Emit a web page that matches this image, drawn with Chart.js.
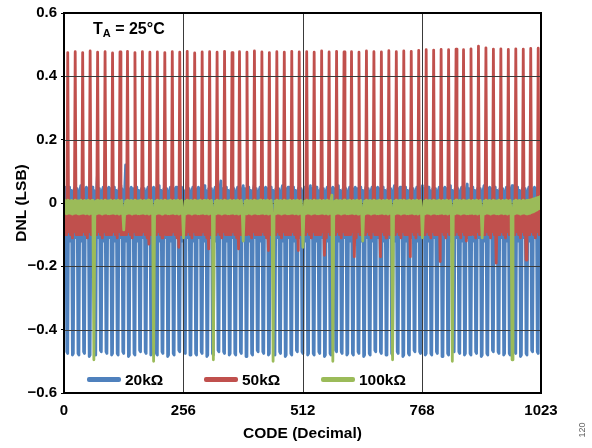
<!DOCTYPE html>
<html>
<head>
<meta charset="utf-8">
<script src="https://cdn.jsdelivr.net/npm/chart.js@4.4.1/dist/chart.umd.min.js"></script>
<style>
  html, body { margin: 0; padding: 0; background: #fff; }
  #wrap { position: relative; width: 592px; height: 448px; font-family: "Liberation Sans", Arial, sans-serif; color: #000; }
  #wrap canvas { position: absolute; left: 0; top: 0; }
  .note { position: absolute; left: 93px; top: 21px; font-size: 16px; font-weight: bold; line-height: 16px; white-space: nowrap; }
  .note .sub { font-size: 11px; position: relative; top: 3px; }
  .legend { position: absolute; left: 87px; top: 370px; display: flex; }
  .legend-item { display: flex; align-items: center; width: 117px; height: 19px; }
  .legend-line { width: 34px; height: 4.5px; border-radius: 2px; }
  .legend-name { margin-left: 4px; font-size: 15.5px; font-weight: bold; white-space: nowrap; }
  .fig-no { position: absolute; left: 572px; top: 425px; width: 20px; text-align: center; font-size: 9px; color: #666; transform: rotate(-90deg); }
</style>
</head>
<body>
<div id="wrap">
  <canvas id="dnl" width="592" height="448"></canvas>
  <div class="note">T<span class="sub">A</span> = 25°C</div>
  <div class="legend" id="legend"></div>
  <div class="fig-no">120</div>
</div>
<script>
// ─────────────────────────────────────────────
//  DATA  (DNL in LSB, one sample every ~2 codes, 0..1023)
// ─────────────────────────────────────────────

const SERIES_NAMES = ['20kΩ', '50kΩ', '100kΩ'];
const SERIES_COLORS = ['#4F81BD', '#C0504D', '#9BBB59'];
const X_TICKS = [0, 256, 512, 768, 1023];
const Y_TICKS = [-0.6, -0.4, -0.2, 0, 0.2, 0.4, 0.6];

const DNL_20K = [
  0.05,-0.11,0.045,-0.47,-0.475,0.04, 0.05,-0.12,0.04,-0.48,-0.475,0.045,
  0.05,-0.11,0.045,-0.475,-0.48,0.04, 0.055,-0.12,0.04,-0.47,-0.475,0.045,
  0.05,-0.11,0.045,-0.485,-0.48,0.04, 0.05,-0.12,0.04,-0.475,-0.48,0.045,
  0.10,-0.11,0.045,-0.465,-0.47,0.04, 0.05,-0.12,0.04,-0.47,-0.475,0.045,
  0.05,-0.11,0.045,-0.48,-0.475,0.04, 0.05,-0.12,0.04,-0.475,-0.48,0.045,
  0.055,-0.11,0.045,-0.47,-0.475,0.04, 0.12,-0.12,0.04,-0.485,-0.48,0.045,
  0.05,-0.11,0.045,-0.475,-0.48,0.04, 0.05,-0.12,0.04,-0.465,-0.47,0.045,
  0.05,-0.11,0.045,-0.47,-0.475,0.04, 0.05,-0.12,0.04,-0.48,-0.475,0.045,
  0.05,-0.11,0.045,-0.475,-0.48,0.04, 0.055,-0.12,0.04,-0.47,-0.475,0.045,
  0.05,-0.11,0.045,-0.485,-0.48,0.04, 0.05,-0.12,0.04,-0.475,-0.48,0.045,
  0.05,-0.11,0.045,-0.465,-0.47,0.04, 0.05,-0.12,0.04,-0.47,-0.475,0.045,
  0.075,-0.11,0.045,-0.48,-0.475,0.04, 0.05,-0.12,0.04,-0.475,-0.48,0.045,
  0.05,-0.11,0.045,-0.47,-0.475,0.04, 0.055,-0.12,0.04,-0.485,-0.48,0.045,
  0.05,-0.11,0.045,-0.475,-0.48,0.04, 0.05,-0.12,0.04,-0.465,-0.47,0.045,
  0.07,-0.11,0.045,-0.47,-0.475,0.04, 0.05,-0.12,0.04,-0.48,-0.475,0.045,
  0.05,-0.11,0.045,-0.475,-0.48,0.04, 0.05,-0.12,0.04,-0.47,-0.475,0.045,
  0.055,-0.11,0.045,-0.485,-0.48,0.04, 0.05,-0.12,0.04,-0.475,-0.48,0.045,
  0.06,-0.11,0.045,-0.465,-0.47,0.04, 0.05,-0.12,0.04,-0.47,-0.475,0.045,
  0.05,-0.11,0.045,-0.48,-0.475,0.04, 0.05,-0.12,0.04,-0.475,-0.48,0.045,
  0.05,-0.11,0.045,-0.47,-0.475,0.04, 0.055,-0.12,0.04,-0.485,-0.48,0.045,
  0.05,-0.11,0.045,-0.475,-0.48,0.04, 0.05,-0.12,0.04,-0.465,-0.47,0.045,
  0.05,-0.11,0.045,-0.47,-0.475,0.04, 0.05,-0.12,0.04,-0.48,-0.475,0.045,
  0.055,-0.11,0.045,-0.475,-0.48,0.04, 0.05,-0.12,0.04,-0.47,-0.475,0.045,
  0.05,-0.11,0.045,-0.485,-0.48,0.04, 0.05,-0.12,0.04,-0.475,-0.48,0.045,
  0.05,-0.11,0.045,-0.465,-0.47,0.04, 0.055,-0.12,0.04,-0.47,-0.475,0.045,
  0.05,-0.11,0.045,-0.48,-0.475,0.04, 0.05,-0.12,0.04,-0.475,-0.48,0.045,
  0.05,-0.11,0.045,-0.47,-0.475,0.04, 0.05,-0.12,0.04,-0.485,-0.48,0.045,
  0.055,-0.11,0.045,-0.475,-0.48,0.04, 0.05,-0.12,0.04,-0.465,-0.47,0.045,
  0.05,-0.11,0.045,-0.47,-0.475,0.04, 0.05,-0.12,0.04,-0.48,-0.475,0.045,
  0.05,-0.11,0.045,-0.475,-0.48,0.04, 0.055,-0.12,0.04,-0.47,-0.475,0.045,
  0.05,-0.11,0.045,-0.485,-0.48,0.04, 0.05,-0.12,0.04,-0.475,-0.48,0.045,
  0.05,-0.11,0.045,-0.465,-0.47,0.04, 0.05,-0.12,0.04,-0.47,-0.475,0.045,
  0.055,-0.11,0.045,-0.48,-0.475,0.04, 0.05,-0.12,0.04,-0.475,-0.48,0.045,
  0.05,-0.11,0.045,-0.47,-0.475,0.04, 0.05,-0.12,0.04,-0.485,-0.48,0.045,
  0.05,-0.11,0.045,-0.475,-0.48,0.04, 0.055,-0.12,0.04,-0.465,-0.47,0.045,
  0.05,-0.11,0.045,-0.47,-0.475,0.04, 0.05,-0.12,0.04,-0.48,-0.475,0.045,
  0.06,-0.11,0.045,-0.475,-0.48,0.04, 0.05,-0.12,0.04,-0.47,-0.475,0.045,
  0.05,-0.11,0.045,-0.485,-0.48,0.04, 0.055,-0.12,0.04,-0.475,-0.48,0.045,
  0.05,-0.11,0.045,-0.465,-0.47,0.04, 0.05,-0.12,0.04,-0.47,-0.475,0.045,
  0.05,-0.11,0.045,-0.48,-0.475,0.04, 0.05,-0.12,0.04,-0.475,-0.48,0.045,
  0.055,-0.11,0.045,-0.47,-0.475,0.04, 0.05,-0.12,0.04,-0.485,-0.48,0.045,
  0.05,-0.11,0.045,-0.475,-0.48,0.04, 0.05,-0.12,0.04,-0.465,-0.47,0.045,
  0.05,-0.11,0.045,-0.47,-0.475,0.04, 0.05,-0.11
];

const DNL_50K = [
  -0.03,-0.10,-0.02,-0.10,0.475,-0.09,-0.03,-0.10, -0.02,-0.11,-0.03,-0.09,0.478,-0.10,-0.02,-0.10,
  -0.03,-0.10,-0.02,-0.10,0.475,-0.09,-0.03,-0.10, -0.02,-0.11,-0.03,-0.09,0.480,-0.10,-0.02,-0.10,
  -0.03,-0.10,-0.02,-0.10,0.476,-0.09,-0.03,-0.10, -0.02,-0.11,-0.03,-0.09,0.478,-0.10,-0.02,-0.10,
  -0.03,-0.10,-0.02,-0.10,0.474,-0.09,-0.03,-0.10, -0.02,-0.11,-0.03,-0.09,0.477,-0.10,-0.02,-0.10,
  -0.03,-0.10,-0.02,-0.10,0.479,-0.09,-0.03,-0.10, -0.02,-0.11,-0.03,-0.09,0.475,-0.10,-0.02,-0.10,
  -0.03,-0.10,-0.02,-0.10,0.478,-0.09,-0.03,-0.10, -0.02,-0.11,-0.03,-0.13,0.476,-0.10,-0.02,-0.10,
  -0.03,-0.10,-0.02,-0.10,0.477,-0.09,-0.03,-0.10, -0.02,-0.11,-0.03,-0.09,0.475,-0.10,-0.02,-0.10,
  -0.03,-0.10,-0.02,-0.10,0.478,-0.09,-0.03,-0.10, -0.02,-0.11,-0.03,-0.14,0.476,-0.10,-0.02,-0.10,
  -0.03,-0.10,-0.02,-0.10,0.479,-0.09,-0.03,-0.10, -0.02,-0.11,-0.03,-0.09,0.474,-0.10,-0.02,-0.10,
  -0.03,-0.10,-0.02,-0.10,0.477,-0.09,-0.03,-0.10, -0.02,-0.11,-0.03,-0.145,0.478,-0.10,-0.02,-0.10,
  -0.03,-0.10,-0.02,-0.10,0.476,-0.09,-0.03,-0.10, -0.02,-0.11,-0.03,-0.09,0.479,-0.10,-0.02,-0.10,
  -0.03,-0.10,-0.02,-0.10,0.475,-0.09,-0.03,-0.10, -0.02,-0.11,-0.03,-0.145,0.478,-0.10,-0.02,-0.10,
  -0.03,-0.10,-0.02,-0.10,0.476,-0.09,-0.03,-0.10, -0.02,-0.11,-0.03,-0.09,0.480,-0.10,-0.02,-0.10,
  -0.03,-0.10,-0.02,-0.10,0.477,-0.09,-0.03,-0.10, -0.02,-0.11,-0.03,-0.15,0.475,-0.10,-0.02,-0.10,
  -0.03,-0.10,-0.02,-0.10,0.478,-0.09,-0.03,-0.10, -0.02,-0.11,-0.03,-0.09,0.476,-0.10,-0.02,-0.10,
  -0.03,-0.10,-0.02,-0.10,0.479,-0.09,-0.03,-0.10, -0.02,-0.11,-0.03,-0.15,0.477,-0.10,-0.02,-0.10,
  -0.03,-0.10,-0.02,-0.10,0.478,-0.09,-0.03,-0.10, -0.02,-0.11,-0.03,-0.09,0.476,-0.10,-0.02,-0.10,
  -0.03,-0.10,-0.02,-0.10,0.480,-0.09,-0.03,-0.165, -0.02,-0.11,-0.03,-0.09,0.477,-0.10,-0.02,-0.10,
  -0.03,-0.10,-0.02,-0.10,0.479,-0.09,-0.03,-0.10, -0.02,-0.11,-0.03,-0.09,0.477,-0.10,-0.02,-0.10,
  -0.03,-0.10,-0.02,-0.10,0.478,-0.09,-0.03,-0.17, -0.02,-0.11,-0.03,-0.09,0.476,-0.10,-0.02,-0.10,
  -0.03,-0.10,-0.02,-0.10,0.480,-0.09,-0.03,-0.10, -0.02,-0.11,-0.03,-0.09,0.478,-0.10,-0.02,-0.10,
  -0.03,-0.10,-0.02,-0.17,0.477,-0.09,-0.03,-0.10, -0.02,-0.11,-0.03,-0.09,0.481,-0.10,-0.02,-0.10,
  -0.03,-0.10,-0.02,-0.10,0.478,-0.09,-0.03,-0.10, -0.02,-0.11,-0.03,-0.09,0.480,-0.10,-0.02,-0.10,
  -0.03,-0.10,-0.02,-0.17,0.479,-0.09,-0.03,-0.10, -0.02,-0.11,-0.03,-0.09,0.482,-0.10,-0.02,-0.10,
  -0.03,-0.10,-0.02,-0.10,0.484,-0.09,-0.03,-0.10, -0.02,-0.11,-0.03,-0.09,0.483,-0.10,-0.02,-0.10,
  -0.03,-0.10,-0.02,-0.185,0.485,-0.09,-0.03,-0.10, -0.02,-0.11,-0.03,-0.09,0.484,-0.10,-0.02,-0.10,
  -0.03,-0.10,-0.02,-0.10,0.486,-0.09,-0.03,-0.10, -0.02,-0.11,-0.03,-0.09,0.484,-0.10,-0.02,-0.12,
  -0.03,-0.10,-0.02,-0.10,0.487,-0.09,-0.03,-0.10, -0.02,-0.11,-0.03,-0.09,0.495,-0.10,-0.02,-0.10,
  -0.03,-0.10,-0.02,-0.10,0.490,-0.09,-0.03,-0.10, -0.02,-0.11,-0.03,-0.09,0.486,-0.10,-0.02,-0.19,
  -0.03,-0.10,-0.02,-0.10,0.487,-0.09,-0.03,-0.10, -0.02,-0.11,-0.03,-0.09,0.485,-0.10,-0.02,-0.10,
  -0.03,-0.10,-0.02,-0.10,0.487,-0.09,-0.03,-0.10, -0.02,-0.11,-0.03,-0.09,0.486,-0.10,-0.02,-0.18,
  -0.03,-0.10,-0.02,-0.10,0.488,-0.09,-0.03,-0.10, -0.02,-0.11,-0.03,-0.09,0.489,-0.10,-0.02,-0.10
];

const DNL_100K = [
  0.008,-0.033,0.006,-0.034,0.009,-0.032,0.007,-0.033,0.008,-0.035,0.006,-0.033,0.009,-0.032,0.007,-0.034,
  0.007,-0.034,0.009,-0.033,0.006,-0.032,0.008,-0.034,0.007,-0.033,0.009,-0.035,0.006,-0.033,0.008,-0.032,
  -0.495,-0.033,0.006,-0.034,0.009,-0.032,0.007,-0.033,0.008,-0.035,0.006,-0.033,0.009,-0.032,0.007,-0.034,
  0.007,-0.034,0.009,-0.033,0.006,-0.032,0.008,-0.034,0.007,-0.033,0.009,-0.035,0.006,-0.033,0.008,-0.032,
  -0.085,-0.033,0.006,-0.034,0.009,-0.032,0.007,-0.033,0.008,-0.035,0.006,-0.033,0.009,-0.032,0.007,-0.034,
  0.007,-0.034,0.009,-0.033,0.006,-0.032,0.008,-0.034,0.007,-0.033,0.009,-0.035,0.006,-0.033,0.008,-0.032,
  -0.500,-0.033,0.006,-0.034,0.009,-0.032,0.007,-0.033,0.008,-0.035,0.006,-0.033,0.009,-0.032,0.007,-0.034,
  0.007,-0.034,0.009,-0.033,0.006,-0.032,0.008,-0.034,0.007,-0.033,0.009,-0.035,0.006,-0.033,0.008,-0.032,
  -0.110,-0.033,0.006,-0.034,0.009,-0.032,0.007,-0.033,0.008,-0.035,0.006,-0.033,0.009,-0.032,0.007,-0.034,
  0.007,-0.034,0.009,-0.033,0.006,-0.032,0.008,-0.034,0.007,-0.033,0.009,-0.035,0.006,-0.033,0.008,-0.032,
  -0.495,-0.033,0.006,-0.034,0.009,-0.032,0.007,-0.033,0.008,-0.035,0.006,-0.033,0.009,-0.032,0.007,-0.034,
  0.007,-0.034,0.009,-0.033,0.006,-0.032,0.008,-0.034,0.007,-0.033,0.009,-0.035,0.006,-0.033,0.008,-0.032,
  -0.120,-0.033,0.006,-0.034,0.009,-0.032,0.007,-0.033,0.008,-0.035,0.006,-0.033,0.009,-0.032,0.007,-0.034,
  0.007,-0.034,0.009,-0.033,0.006,-0.032,0.008,-0.034,0.007,-0.033,0.009,-0.035,0.006,-0.033,0.008,-0.032,
  -0.500,-0.033,0.006,-0.034,0.009,-0.032,0.007,-0.033,0.008,-0.035,0.006,-0.033,0.009,-0.032,0.007,-0.034,
  0.007,-0.034,0.009,-0.033,0.006,-0.032,0.008,-0.034,0.007,-0.033,0.009,-0.035,0.006,-0.033,0.008,-0.032,
  -0.140,-0.033,0.006,-0.034,0.009,-0.032,0.007,-0.033,0.008,-0.035,0.006,-0.033,0.009,-0.032,0.007,-0.034,
  0.007,-0.034,0.009,-0.033,0.006,-0.032,0.008,-0.034,0.007,-0.033,0.009,-0.035,0.006,-0.033,0.008,0.025,
  -0.500,-0.033,0.006,-0.034,0.009,-0.032,0.007,-0.033,0.008,-0.035,0.006,-0.033,0.009,-0.032,0.007,-0.034,
  0.007,-0.034,0.009,-0.033,0.006,-0.032,0.008,-0.034,0.007,-0.033,0.009,-0.035,0.006,-0.033,0.008,-0.032,
  -0.120,-0.033,0.006,-0.034,0.009,-0.032,0.007,-0.033,0.008,-0.035,0.006,-0.033,0.009,-0.032,0.007,-0.034,
  0.007,-0.034,0.009,-0.033,0.006,-0.032,0.008,-0.034,0.007,-0.033,0.009,-0.035,0.006,-0.033,0.008,-0.032,
  -0.495,-0.033,0.006,-0.034,0.009,-0.032,0.007,-0.033,0.008,-0.035,0.006,-0.033,0.009,-0.032,0.007,-0.034,
  0.007,-0.034,0.009,-0.033,0.006,-0.032,0.008,-0.034,0.007,-0.033,0.009,-0.035,0.006,-0.033,0.008,-0.032,
  -0.110,-0.033,0.006,-0.034,0.009,-0.032,0.007,-0.033,0.008,-0.035,0.006,-0.033,0.009,-0.032,0.007,-0.034,
  0.007,-0.034,0.009,-0.033,0.006,-0.032,0.008,-0.034,0.007,-0.033,0.009,-0.035,0.006,-0.033,0.008,-0.032,
  -0.500,-0.033,0.006,-0.034,0.009,-0.032,0.007,-0.033,0.008,-0.035,0.006,-0.033,0.009,-0.032,0.007,-0.034,
  0.007,-0.034,0.009,-0.033,0.006,-0.032,0.008,-0.034,0.007,-0.033,0.009,-0.035,0.006,-0.033,0.008,-0.032,
  -0.110,-0.033,0.006,-0.034,0.009,-0.032,0.007,-0.033,0.008,-0.035,0.006,-0.033,0.009,-0.032,0.007,-0.034,
  0.007,-0.034,0.009,-0.033,0.006,-0.032,0.008,-0.034,0.007,-0.033,0.009,-0.035,0.006,-0.033,0.008,-0.032,
  -0.495,-0.033,0.006,-0.034,0.009,-0.032,0.007,-0.033,0.008,-0.035,0.006,-0.033,0.009,-0.032,0.007,-0.034,
  0.008,-0.034,0.009,-0.033,0.010,-0.030,0.012,-0.028,0.014,-0.025,0.016,-0.022,0.018,-0.018,0.020,-0.015
];

const SERIES_VALUES = [DNL_20K, DNL_50K, DNL_100K];

// ─────────────────────────────────────────────
//  CHART
// ─────────────────────────────────────────────

const FONT = '"Liberation Sans", Arial, sans-serif';
const GRID_COLOR = '#3a3a3a';
const LAST_CODE = 1023;

// samples are evenly spaced over the code range
function toPoints(values) {
  const step = LAST_CODE / (values.length - 1);
  return values.map((v, i) => ({ x: i * step, y: v }));
}

function formatLsb(v) {
  if (Math.abs(v) < 1e-9) return '0';
  return (v < 0 ? '\u2212' : '') + Math.abs(v).toFixed(1);
}

// grid sits over the 20k / 50k traces but under the 100k trace
const gridOver = {
  id: 'gridOver',
  beforeDatasetDraw(chart, args) {
    if (args.index !== 2) return;
    const { ctx, chartArea: a, scales: { x, y } } = chart;
    ctx.save();
    ctx.strokeStyle = GRID_COLOR;
    ctx.lineWidth = 1;
    ctx.beginPath();
    X_TICKS.slice(1, -1).forEach(v => {
      const px = Math.round(x.getPixelForValue(v)) + 0.5;
      ctx.moveTo(px, a.top);
      ctx.lineTo(px, a.bottom);
    });
    Y_TICKS.slice(1, -1).forEach(v => {
      const py = Math.round(y.getPixelForValue(v)) + 0.5;
      ctx.moveTo(a.left, py);
      ctx.lineTo(a.right, py);
    });
    ctx.stroke();
    ctx.restore();
  }
};

const frame = {
  id: 'frame',
  afterDatasetsDraw(chart) {
    const { ctx, chartArea: a } = chart;
    ctx.save();
    ctx.strokeStyle = '#000';
    ctx.lineWidth = 2;
    ctx.strokeRect(a.left, a.top, a.right - a.left, a.bottom - a.top);
    ctx.restore();
  }
};

const datasets = SERIES_VALUES.map((vals, i) => ({
  label: SERIES_NAMES[i],
  data: toPoints(vals),
  borderColor: SERIES_COLORS[i],
  backgroundColor: SERIES_COLORS[i],
  borderWidth: 2.8,
  pointRadius: 0,
  tension: 0,
  borderJoinStyle: 'round',
  order: 3 - i   // 100k on top, 20k at the bottom
}));

new Chart(document.getElementById('dnl').getContext('2d'), {
  type: 'line',
  data: { datasets },
  options: {
    responsive: false,
    animation: false,
    normalized: true,
    layout: { padding: { top: 13, right: 51, left: 0, bottom: 0 } },
    plugins: { legend: { display: false }, tooltip: { enabled: false } },
    scales: {
      x: {
        type: 'linear',
        min: 0,
        max: LAST_CODE,
        afterBuildTicks: s => { s.ticks = X_TICKS.map(v => ({ value: v })); },
        afterFit: s => { s.height = 55; },
        grid: { drawOnChartArea: false, drawTicks: false },
        border: { display: false },
        ticks: { padding: 9, maxRotation: 0, color: '#000', callback: v => String(v),
                 font: { family: FONT, size: 15, weight: 'bold' } },
        title: { display: true, text: 'CODE (Decimal)', color: '#000', padding: { top: 0, bottom: 5 },
                 font: { family: FONT, size: 15.5, weight: 'bold' } }
      },
      y: {
        type: 'linear',
        min: -0.6,
        max: 0.6,
        afterBuildTicks: s => { s.ticks = Y_TICKS.map(v => ({ value: v })); },
        afterFit: s => { s.width = 64; },
        grid: { drawOnChartArea: false, drawTicks: true, tickLength: 3, color: '#000' },
        border: { display: false },
        ticks: { padding: 4, color: '#000', callback: formatLsb, font: { family: FONT, size: 15, weight: 'bold' } },
        title: { display: true, text: 'DNL (LSB)', color: '#000', padding: { top: 12, bottom: 0 },
                 font: { family: FONT, size: 15.5, weight: 'bold' } }
      }
    }
  },
  plugins: [gridOver, frame]
});

// Legend
document.getElementById('legend').innerHTML = SERIES_NAMES.map((name, i) => `
  <div class="legend-item">
    <span class="legend-line" style="background:${SERIES_COLORS[i]}"></span>
    <span class="legend-name">${name}</span>
  </div>`).join('');
</script>
</body>
</html>
